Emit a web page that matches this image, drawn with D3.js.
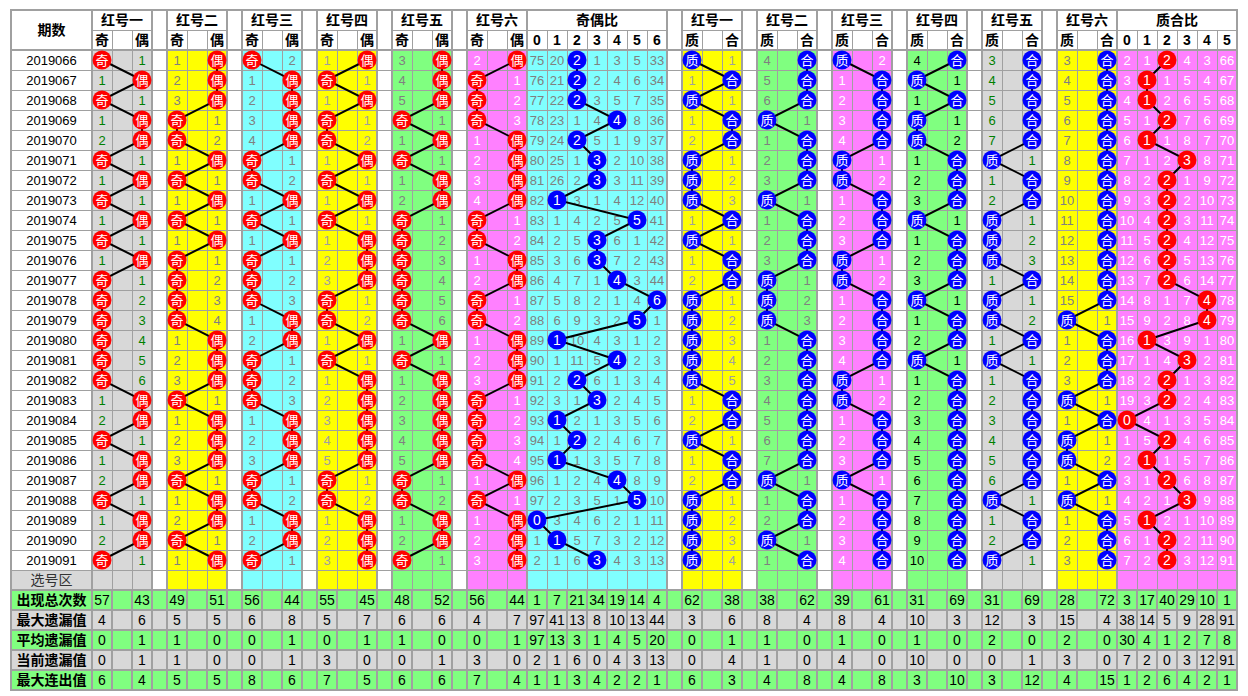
<!DOCTYPE html>
<html>
<head>
<meta charset="utf-8">
<script src="https://d3js.org/d3.v7.min.js"></script>
<style>
  body { margin: 0; background: #fff; }
  svg { display: block; }
  text { font-family: "Liberation Sans", Arial, sans-serif; }
  .cjk { font-family: "Noto Sans CJK SC", sans-serif; }
</style>
</head>
<body>
<svg width="1248" height="696"></svg>
<script>
// ---- data ----
var periods = d3.range(2019066, 2019092).map(String);

var groupTitles = ["红号一", "红号二", "红号三", "红号四", "红号五", "红号六"];

// odd / even per red ball, and the omission shown in the other cell
var oeHits = [
  "奇偶奇偶偶奇偶奇偶奇偶奇奇奇奇奇奇偶偶奇偶偶奇偶偶奇",
  "偶偶偶奇奇偶奇偶奇偶奇奇奇奇偶偶偶奇偶偶偶奇偶偶奇偶",
  "奇偶偶偶偶奇奇偶奇偶奇奇奇偶偶奇奇奇偶偶偶奇奇偶偶奇",
  "偶奇偶奇奇偶奇偶奇偶偶偶奇奇偶奇偶偶偶偶偶奇奇偶偶偶",
  "偶偶偶奇偶奇偶偶奇奇奇奇奇奇偶奇偶偶偶偶偶奇奇偶偶奇",
  "偶奇奇奇偶偶偶偶奇奇偶偶奇奇偶偶偶奇奇奇奇偶奇偶偶偶"
];
var oeMiss = [
  [1,1,1,1,2,1,1,1,1,1,1,1,2,3,4,5,6,1,2,1,1,2,1,1,2,1],
  [1,2,3,1,2,1,1,1,1,1,1,2,3,4,1,2,3,1,1,2,3,1,1,2,1,1],
  [2,1,2,3,4,1,2,1,1,1,1,2,3,1,2,1,2,3,1,2,3,1,2,1,2,1],
  [1,1,1,1,2,1,1,1,1,1,2,3,1,2,1,1,1,2,3,4,5,1,2,1,2,3],
  [3,4,5,1,1,1,1,2,1,2,3,4,5,6,1,1,1,2,3,4,5,1,2,1,2,1],
  [2,1,2,3,1,2,3,4,1,2,1,2,1,2,1,2,3,1,2,3,4,1,1,1,2,3]
];

// odd count ratio 0..6 : omission per column, 0 = drawn
var oeRatio = [
  [75,20,0,1,3,5,33],[76,21,0,2,4,6,34],[77,22,0,3,5,7,35],[78,23,1,4,0,8,36],
  [79,24,0,5,1,9,37],[80,25,1,0,2,10,38],[81,26,2,0,3,11,39],[82,0,3,1,4,12,40],
  [83,1,4,2,5,0,41],[84,2,5,0,6,1,42],[85,3,6,0,7,2,43],[86,4,7,1,0,3,44],
  [87,5,8,2,1,4,0],[88,6,9,3,2,0,1],[89,0,10,4,3,1,2],[90,1,11,5,0,2,3],
  [91,2,0,6,1,3,4],[92,3,1,0,2,4,5],[93,0,2,1,3,5,6],[94,1,0,2,4,6,7],
  [95,0,1,3,5,7,8],[96,1,2,4,0,8,9],[97,2,3,5,1,0,10],[0,3,4,6,2,1,11],
  [1,0,5,7,3,2,12],[2,1,6,0,4,3,13]
];

// prime / composite per red ball
var zhHits = [
  "质合质合合质质质合质合合质质质质质合合质合合质质质质",
  "合合合质合合合质合合合质质质合合合合合合合质合合质合",
  "质合合合合质质合合合质质合合合合质质合合合质合合合合",
  "合质合质质合合合质合合合质合合质合合合合合合合合合合",
  "合合合合合质合合质质质合质质合质合合合合合合质合合质",
  "合合合合合合合合合合合合合质合合合质合质质合质合合合"
];
var zhMiss = [
  [1,1,1,1,2,1,2,3,1,1,1,2,1,2,3,4,5,1,2,1,1,2,1,2,3,4],
  [4,5,6,1,1,2,3,1,1,2,3,1,2,3,1,2,3,4,5,6,7,1,1,2,1,1],
  [2,1,2,3,4,1,2,1,2,3,1,2,1,2,3,4,1,2,1,2,3,1,1,2,3,4],
  [4,1,1,1,2,1,2,3,1,1,2,3,1,1,2,1,1,2,3,4,5,6,7,8,9,10],
  [3,4,5,6,7,1,1,2,1,2,3,1,1,2,1,1,1,2,3,4,5,6,1,1,2,1],
  [3,4,5,6,7,8,9,10,11,12,13,14,15,1,1,2,3,1,1,1,2,1,1,1,2,3]
];

// prime count ratio 0..5 : omission per column, 0 = drawn
var zhRatio = [
  [2,1,0,4,3,66],[3,0,1,5,4,67],[4,0,2,6,5,68],[5,1,0,7,6,69],[6,0,1,8,7,70],
  [7,1,2,0,8,71],[8,2,0,1,9,72],[9,3,0,2,10,73],[10,4,0,3,11,74],[11,5,0,4,12,75],
  [12,6,0,5,13,76],[13,7,0,6,14,77],[14,8,1,7,0,78],[15,9,2,8,0,79],[16,0,3,9,1,80],
  [17,1,4,0,2,81],[18,2,0,1,3,82],[19,3,0,2,4,83],[0,4,1,3,5,84],[1,5,0,4,6,85],
  [2,0,1,5,7,86],[3,1,0,6,8,87],[4,2,1,0,9,88],[5,0,2,1,10,89],[6,1,0,2,11,90],
  [7,2,0,3,12,91]
];

var statLabels = ["出现总次数", "最大遗漏值", "平均遗漏值", "当前遗漏值", "最大连出值"];
var statTotal   = [57,43,49,51,56,44,55,45,48,52,56,44, 1,7,21,34,19,14,4, 62,38,38,62,39,61,31,69,31,69,28,72, 3,17,40,29,10,1];
var statMaxMiss = [4,6,5,5,6,8,5,7,6,6,4,7, 97,41,13,8,10,13,44, 3,6,8,4,8,4,10,3,12,3,15,4, 38,14,5,9,28,91];
var statAvgMiss = [0,1,1,0,0,1,0,1,1,0,0,1, 97,13,3,1,4,5,20, 0,1,1,0,1,0,1,0,2,0,2,0, 30,4,1,2,7,8];
var statCurMiss = [0,1,1,0,0,1,3,0,0,1,3,0, 2,1,6,0,4,3,13, 0,4,1,0,4,0,10,0,0,1,3,0, 7,2,0,3,12,91];
var statMaxRun  = [6,4,5,5,8,6,7,5,6,6,7,4, 1,1,3,4,2,2,1, 6,3,4,8,4,8,3,10,3,12,4,15, 1,2,6,4,2,1];
var statRows = [statTotal, statMaxMiss, statAvgMiss, statCurMiss, statMaxRun];

// ---- styles ----
var GREY = "#d8d8d8", YEL = "#ffff00", CYAN = "#80ffff", GRN = "#80ff80", PINK = "#ff80ff";
var oeBg = [GREY, YEL, CYAN, YEL, GRN, PINK];
var oeFg = ["#008000", "#808080", "#808080", "#a0a0a0", "#808080", "#ffffff"];
var zhBg = [YEL, GRN, PINK, GRN, GREY, YEL];
var zhFg = ["#a0a0a0", "#808080", "#ffffff", "#000000", "#008000", "#808080"];
var LINE = "#a0a0a0";

// ---- scales ----
var svg = d3.select("svg");
var L = 11, QR = 92, R = 1237, TOP = 10, HEAD = 50;
var rowY = d3.scaleLinear().domain([0, periods.length]).range([HEAD, HEAD + 20 * periods.length]);
var PICK = rowY(periods.length), STAT = PICK + 20;
var statY = d3.scaleLinear().domain([0, statLabels.length]).range([STAT, STAT + 20 * statLabels.length]);
var BOTTOM = statY(statLabels.length);

var oeX = d3.scaleBand().domain(d3.range(6)).range([QR, 527]).paddingInner(0.2);
var oeRX = d3.scaleBand().domain(d3.range(7)).range([527, 667]);
var zhX = d3.scaleBand().domain(d3.range(6)).range([682, 1117]).paddingInner(0.2);
var zhRX = d3.scaleBand().domain(d3.range(6)).range([1117, R]);
var cellX = d3.scaleBand().domain([0, 1, 2]).range([0, oeX.bandwidth()]);
var cw = cellX.bandwidth();

// all columns, left to right (for stats and grid)
var cols = [];
d3.range(6).forEach(function (g) {
  [0, 1, 2].forEach(function (c) { cols.push({x: oeX(g) + cellX(c), w: cw, bg: oeBg[g], stat: c !== 1}); });
  if (g < 5) cols.push({x: oeX(g) + cw * 3, w: oeX.step() - oeX.bandwidth(), bg: null, gap: true});
});
d3.range(7).forEach(function (k) { cols.push({x: oeRX(k), w: cw, bg: CYAN, stat: true}); });
cols.push({x: 667, w: zhX(0) - 667, bg: null, gap: true});
d3.range(6).forEach(function (g) {
  [0, 1, 2].forEach(function (c) { cols.push({x: zhX(g) + cellX(c), w: cw, bg: zhBg[g], stat: c !== 1}); });
  if (g < 5) cols.push({x: zhX(g) + cw * 3, w: zhX.step() - zhX.bandwidth(), bg: null, gap: true});
});
d3.range(6).forEach(function (k) { cols.push({x: zhRX(k), w: cw, bg: PINK, stat: true}); });

var gBg = svg.append("g"), gGrid = svg.append("g"), gTxt = svg.append("g"),
    gLink = svg.append("g"), gBall = svg.append("g");

// backgrounds for data + pick rows
gBg.selectAll("rect.col").data(cols.filter(function (c) { return c.bg; })).enter()
  .append("rect").attr("x", function (c) { return c.x; }).attr("y", HEAD)
  .attr("width", function (c) { return c.w; }).attr("height", STAT - HEAD)
  .attr("fill", function (c) { return c.bg; });
gBg.append("rect").attr("x", L).attr("y", PICK).attr("width", QR - L).attr("height", 20).attr("fill", GREY);

// stats backgrounds
statLabels.forEach(function (lab, r) {
  gBg.append("rect").attr("x", L).attr("y", statY(r)).attr("width", R - L).attr("height", 20)
    .attr("fill", r % 2 === 0 ? GRN : GREY);
});

// ---- grid ----
function hline(y, x1, x2, w) {
  gGrid.append("line").attr("x1", x1).attr("x2", x2).attr("y1", y).attr("y2", y)
    .attr("stroke", LINE).attr("stroke-width", w || 1);
}
function vline(x, y1, y2, w) {
  gGrid.append("line").attr("x1", x).attr("x2", x).attr("y1", y1).attr("y2", y2)
    .attr("stroke", LINE).attr("stroke-width", w || 1);
}
// data row lines
d3.range(1, periods.length + 1).forEach(function (i) { hline(rowY(i) + 0.5, L, R); });
// thin inner column lines in data + header row 2
cols.forEach(function (c) {
  if (!c.gap) vline(c.x + 0.5, 30, STAT);
});
// header row divider over groups / ratios
d3.range(6).forEach(function (g) { hline(30.5, oeX(g), oeX(g) + oeX.bandwidth()); hline(30.5, zhX(g), zhX(g) + zhX.bandwidth()); });
hline(30.5, 527, 667); hline(30.5, 1117, R);
// thick section edges
var edges = [L, QR, 667, 682, 1117, R];
d3.range(6).forEach(function (g) { edges.push(oeX(g), oeX(g) + oeX.bandwidth(), zhX(g), zhX(g) + zhX.bandwidth()); });
edges.forEach(function (x) { vline(x, TOP, STAT, 2); });
hline(TOP, L - 1, R + 1, 2);
hline(HEAD, L, R, 2);
// stats grid
d3.range(0, statLabels.length + 1).forEach(function (r) { hline(statY(r), L - 1, R + 1, 2); });
cols.forEach(function (c) { vline(c.x, STAT, BOTTOM, 2); });
vline(L, STAT, BOTTOM, 2); vline(R, STAT, BOTTOM, 2);

// ---- header text ----
function label(x, y, t, opt) {
  opt = opt || {};
  return gTxt.append("text").attr("x", x).attr("y", y).attr("text-anchor", "middle")
    .attr("dy", "0.36em").attr("class", opt.cls || null)
    .attr("font-size", opt.size || 13).attr("font-weight", opt.bold ? "bold" : null)
    .attr("fill", opt.fill || "#000").text(t);
}
label((L + QR) / 2, 30, "期数", {cls: "cjk", size: 14, bold: true});
d3.range(6).forEach(function (g) {
  label(oeX(g) + 30, 20, groupTitles[g], {cls: "cjk", size: 14, bold: true});
  label(oeX(g) + cellX(0) + 10, 40, "奇", {cls: "cjk", size: 14, bold: true});
  label(oeX(g) + cellX(2) + 10, 40, "偶", {cls: "cjk", size: 14, bold: true});
  label(zhX(g) + 30, 20, groupTitles[g], {cls: "cjk", size: 14, bold: true});
  label(zhX(g) + cellX(0) + 10, 40, "质", {cls: "cjk", size: 14, bold: true});
  label(zhX(g) + cellX(2) + 10, 40, "合", {cls: "cjk", size: 14, bold: true});
});
label(597, 20, "奇偶比", {cls: "cjk", size: 14, bold: true});
label(1177, 20, "质合比", {cls: "cjk", size: 14, bold: true});
d3.range(7).forEach(function (k) { label(oeRX(k) + 10, 40, k, {size: 14, bold: true}); });
d3.range(6).forEach(function (k) { label(zhRX(k) + 10, 40, k, {size: 14, bold: true}); });

// periods
periods.forEach(function (p, i) { label((L + QR) / 2, rowY(i) + 10, p, {size: 13}); });
label((L + QR) / 2, PICK + 10, "选号区", {cls: "cjk", size: 14, fill: "#333"});

// ---- trend groups ----
var R_BALL = 9.5;
function drawTrend(pts, color, fontCls, size) {
  gLink.append("path")
    .attr("d", d3.line().x(function (d) { return d.x; }).y(function (d) { return d.y; })(pts))
    .attr("fill", "none").attr("stroke", "#000").attr("stroke-width", 2);
  var b = gBall.append("g").selectAll("g").data(pts).enter().append("g");
  b.append("circle").attr("cx", function (d) { return d.x; }).attr("cy", function (d) { return d.y; })
    .attr("r", R_BALL).attr("fill", color);
  b.append("text").attr("x", function (d) { return d.x; }).attr("y", function (d) { return d.y; })
    .attr("text-anchor", "middle").attr("dy", "0.36em").attr("class", fontCls)
    .attr("font-size", size).attr("fill", "#fff").text(function (d) { return d.t; });
}

function drawPair(xScale, g, hits, miss, syms, fg, color) {
  var chars = Array.from(hits);
  var pts = chars.map(function (h, i) {
    var c = h === syms[0] ? 0 : 2;
    var other = c === 0 ? 2 : 0;
    label(xScale(g) + cellX(other) + 10, rowY(i) + 10, miss[i], {size: 13, fill: fg});
    return {x: xScale(g) + cellX(c) + 10, y: rowY(i) + 10, t: h};
  });
  drawTrend(pts, color, "cjk", 13);
}
d3.range(6).forEach(function (g) {
  drawPair(oeX, g, oeHits[g], oeMiss[g], ["奇", "偶"], oeFg[g], "#ff0000");
  drawPair(zhX, g, zhHits[g], zhMiss[g], ["质", "合"], zhFg[g], "#0000ff");
});

function drawRatio(xScale, rows, fg, color) {
  var pts = rows.map(function (row, i) {
    var hit = row.indexOf(0);
    row.forEach(function (v, k) {
      if (k !== hit) label(xScale(k) + 10, rowY(i) + 10, v, {size: 13, fill: fg});
    });
    return {x: xScale(hit) + 10, y: rowY(i) + 10, t: hit};
  });
  drawTrend(pts, color, null, 14);
}
drawRatio(oeRX, oeRatio, "#808080", "#0000ff");
drawRatio(zhRX, zhRatio, "#ffffff", "#ff0000");

// ---- stats ----
var statCols = cols.filter(function (c) { return c.stat; });
statRows.forEach(function (vals, r) {
  label((L + QR) / 2, statY(r) + 10, statLabels[r], {cls: "cjk", size: 14, bold: true});
  vals.forEach(function (v, k) {
    label(statCols[k].x + statCols[k].w / 2, statY(r) + 10, v, {size: 14});
  });
});
</script>
</body>
</html>
